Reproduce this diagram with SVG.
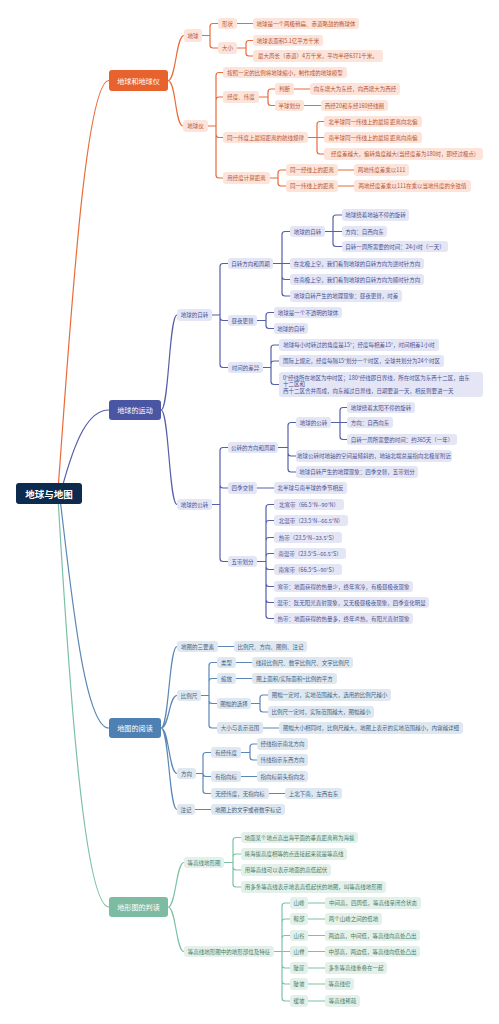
<svg xmlns="http://www.w3.org/2000/svg" width="499" height="1024" viewBox="0 0 499 1024">
<style>
text{font-family:"Noto Sans CJK SC","Noto Sans",sans-serif;text-anchor:middle;dominant-baseline:central;font-size:5.5px}
.lo{fill:none;stroke:#EA6B3A;stroke-width:1.2}
.lb{fill:none;stroke:#5560A8;stroke-width:1.2}
.lm{fill:none;stroke:#5A87B5;stroke-width:1.2}
.lg{fill:none;stroke:#7CC1A5;stroke-width:1.2}
.no rect{fill:#FCE4DB}.no text{fill:#B8532F}
.nb rect{fill:#E4E6F5}.nb text{fill:#4B5190}
.nm rect{fill:#DFE8F0}.nm text{fill:#3F5F80}
.ng rect{fill:#E3F1EA}.ng text{fill:#4C7A66}
.main text{fill:#fff;font-size:7.1px}
#root text{fill:#fff;font-size:9.5px;font-weight:bold}
</style>
<g id="connectors">
<path class="lo" d="M58,490 C70,330 85,80.5 109,80.5"/>
<path class="lb" d="M62,488 C75,440 88,410 109,410"/>
<path class="lm" d="M60,498 C72,600 85,728 109,728"/>
<path class="lg" d="M58,498 C70,700 85,907 109,907"/>
<path class="lo" d="M168,80.5 C176,80.5 176,35.5 184,35.5 M168,80.5 C176,80.5 175,126 183,126
M202,35.5 H210 V26.5 Q210,23.5 213,23.5 H218 M202,35.5 H210 V45 Q210,48 213,48 H218
M237,23.5 H253
M237,48 H246 V43.5 Q246,40.5 249,40.5 H253 M237,48 H246 V53 Q246,56 249,56 H253
M208,126 H216 V75.5 Q216,72.5 219,72.5 H223 M208,126 H216 V100 Q216,97 219,97 H223 M208,126 H216 V134.5 Q216,137.5 219,137.5 H223 M208,126 H216 V175 Q216,178 219,178 H223
M259,97 H268 V92 Q268,89 271,89 H275 M259,97 H268 V102.5 Q268,105.5 271,105.5 H275
M294,89 H310 M304,105.5 H321
M308,137.5 H317 V124.5 Q317,121.5 320,121.5 H324 M308,137.5 H324 M308,137.5 H317 V151 Q317,154 320,154 H324
M270,178 H278 V173 Q278,170 281,170 H286 M270,178 H278 V183 Q278,186 281,186 H286
M338,170 H354 M338,186 H354"/>
<path class="lb" d="M161,410 C169,410 169,315 177,315 M161,410 C169,410 169,504.5 177,504.5
M212,315 H220 V266.5 Q220,263.5 223,263.5 H228 M212,315 H220 V317.5 Q220,320.5 223,320.5 H228 M212,315 H220 V364.5 Q220,367.5 223,367.5 H228
M273,263.5 H282 V234.5 Q282,231.5 285,231.5 H290 M273,263.5 H290 M273,263.5 H282 V276.5 Q282,279.5 285,279.5 H290 M273,263.5 H282 V293 Q282,296 285,296 H290
M325,231.5 H333 V218 Q333,215 336,215 H342 M325,231.5 H342 M325,231.5 H333 V243.5 Q333,246.5 336,246.5 H342
M257,320.5 H266 V315.5 Q266,312.5 269,312.5 H274 M257,320.5 H266 V325.5 Q266,328.5 269,328.5 H274
M263,367.5 H271 V348 Q271,345 274,345 H279 M263,367.5 H271 V364 Q271,361 274,361 H279 M263,367.5 H271 V381.5 Q271,384.5 274,384.5 H279
M212,504.5 H220 V450.5 Q220,447.5 223,447.5 H228 M212,504.5 H220 V485 Q220,488 223,488 H228 M212,504.5 H220 V558.5 Q220,561.5 223,561.5 H228
M278,447.5 H288 V425.5 Q288,422.5 291,422.5 H296 M278,447.5 H288 V453 Q288,456 291,456 H296 M278,447.5 H288 V469 Q288,472 291,472 H296
M331,422.5 H340 V410.5 Q340,407.5 343,407.5 H347 M331,422.5 H347 M331,422.5 H340 V436.5 Q340,439.5 343,439.5 H347
M257,488 H274
M257,561.5 H266 V507.5 Q266,504.5 269,504.5 H274 M257,561.5 H266 V523.5 Q266,520.5 269,520.5 H274 M257,561.5 H266 V540.5 Q266,537.5 269,537.5 H274 M257,561.5 H266 V556.5 Q266,553.5 269,553.5 H274
M257,561.5 H266 V566.5 Q266,569.5 269,569.5 H274 M257,561.5 H266 V583.5 Q266,586.5 269,586.5 H274 M257,561.5 H266 V599.5 Q266,602.5 269,602.5 H274 M257,561.5 H266 V615.5 Q266,618.5 269,618.5 H274"/>
<path class="lm" d="M161,728 C169,728 169,646.5 177,646.5 M161,728 C169,728 169,695.5 177,695.5 M161,728 C169,728 169,773.5 177,773.5 M161,728 C169,728 169,809.5 177,809.5
M218,646.5 H234
M201,695.5 H209 V665.5 Q209,662.5 212,662.5 H217 M201,695.5 H209 V681.5 Q209,678.5 212,678.5 H217 M201,695.5 H209 V700.5 Q209,703.5 212,703.5 H217 M201,695.5 H209 V725 Q209,728 212,728 H217
M236,662.5 H252 M236,678.5 H252
M251,703.5 H260 V698 Q260,695 263,695 H268 M251,703.5 H260 V709 Q260,712 263,712 H268
M263,728 H279
M196,773.5 H203 V755.5 Q203,752.5 206,752.5 H211 M196,773.5 H203 Q203,776.5 206,776.5 H211 M196,773.5 H203 V790.5 Q203,793.5 206,793.5 H211
M241,752.5 H250 V747 Q250,744 253,744 H257 M241,752.5 H250 V757 Q250,760 253,760 H257
M241,776.5 H257 M269,793.5 H285 M195,809.5 H211"/>
<path class="lg" d="M168,907 C176,907 176,862.5 184,862.5 M168,907 C176,907 176,951.5 184,951.5
M224,862.5 H233 V840.5 Q233,837.5 236,837.5 H241 M224,862.5 H233 V857 Q233,854 236,854 H241 M224,862.5 H233 V867 Q233,870 236,870 H241 M224,862.5 H233 V884 Q233,887 236,887 H241
M274,951.5 H282 V906 Q282,903 285,903 H290 M274,951.5 H282 V922 Q282,919 285,919 H290 M274,951.5 H282 V938.5 Q282,935.5 285,935.5 H290 M274,951.5 H290
M274,951.5 H282 V965 Q282,968 285,968 H290 M274,951.5 H282 V981 Q282,984 285,984 H290 M274,951.5 H282 V998 Q282,1001 285,1001 H290
M308,903 H325 M308,919 H325 M308,935.5 H325 M308,951.5 H325 M308,968 H325 M308,984 H325 M308,1001 H325"/>
</g>
<g id="root"><rect x="16" y="483" width="66" height="21" rx="3" fill="#0D2B4E"/><text x="49" y="493.5">地球与地图</text></g>

<g id="o0" class="main"><rect x="109" y="70" width="59" height="21" rx="3" fill="#E8622E"/><text x="138.5" y="80.5">地球和地球仪</text></g>
<g id="o1" class="no"><rect x="184" y="29" width="18" height="13" rx="3"/><text x="193" y="35.5">地球</text></g>
<g id="o2" class="no"><rect x="218" y="18" width="19" height="11" rx="3"/><text x="227.5" y="23.5">形状</text></g>
<g id="o3" class="no"><rect x="253" y="18" width="106" height="11" rx="3"/><text x="306" y="23.5">地球是一个两极稍扁、赤道略鼓的椭球体</text></g>
<g id="o4" class="no"><rect x="218" y="42" width="19" height="12" rx="3"/><text x="227.5" y="48">大小</text></g>
<g id="o5" class="no"><rect x="253" y="35" width="70" height="11" rx="3"/><text x="288" y="40.5">地球表面积5.1亿平方千米</text></g>
<g id="o6" class="no"><rect x="253" y="50" width="130" height="12" rx="3"/><text x="318" y="56">最大周长（赤道）4万千米，平均半径6371千米。</text></g>
<g id="o7" class="no"><rect x="183" y="120" width="25" height="12" rx="3"/><text x="195.5" y="126">地球仪</text></g>
<g id="o8" class="no"><rect x="223" y="67" width="124" height="11" rx="3"/><text x="285" y="72.5">按照一定的比例将地球缩小，制作成的地球模型</text></g>
<g id="o9" class="no"><rect x="223" y="91" width="36" height="12" rx="3"/><text x="241" y="97">经度、纬度</text></g>
<g id="o10" class="no"><rect x="275" y="83" width="19" height="12" rx="3"/><text x="284.5" y="89">判断</text></g>
<g id="o11" class="no"><rect x="310" y="83" width="90" height="12" rx="3"/><text x="355" y="89">向东增大为东经，向西增大为西经</text></g>
<g id="o12" class="no"><rect x="275" y="100" width="29" height="11" rx="3"/><text x="289.5" y="105.5">半球划分</text></g>
<g id="o13" class="no"><rect x="321" y="100" width="67" height="11" rx="3"/><text x="354.5" y="105.5">西经20和东经160经线圈</text></g>
<g id="o14" class="no"><rect x="223" y="132" width="85" height="11" rx="3"/><text x="265.5" y="137.5">同一纬度上最短距离的航线规律</text></g>
<g id="o15" class="no"><rect x="324" y="116" width="98" height="11" rx="3"/><text x="373" y="121.5">北半球同一纬线上的最短 距离向北偏</text></g>
<g id="o16" class="no"><rect x="324" y="132" width="98" height="11" rx="3"/><text x="373" y="137.5">南半球同一纬线上的最短 距离向南偏</text></g>
<g id="o17" class="no"><rect x="324" y="148" width="159" height="12" rx="3"/><text x="403.5" y="154">经度差越大，偏转角度越大(当经度差为180时，即经过极点)</text></g>
<g id="o18" class="no"><rect x="223" y="172" width="47" height="12" rx="3"/><text x="246.5" y="178">用经度计算距离</text></g>
<g id="o19" class="no"><rect x="286" y="164" width="52" height="12" rx="3"/><text x="312" y="170">同一经线上的距离</text></g>
<g id="o20" class="no"><rect x="354" y="164" width="55" height="12" rx="3"/><text x="381.5" y="170">两地纬度差乘以111</text></g>
<g id="o21" class="no"><rect x="286" y="180" width="52" height="12" rx="3"/><text x="312" y="186">同一纬线上的距离</text></g>
<g id="o22" class="no"><rect x="354" y="180" width="117" height="12" rx="3"/><text x="412.5" y="186">两地经度差乘以111在乘以当地纬度的余弦值</text></g>

<g id="b0" class="main"><rect x="109" y="400" width="52" height="20" rx="3" fill="#4A55A3"/><text x="135" y="410">地球的运动</text></g>
<g id="b1" class="nb"><rect x="177" y="309" width="35" height="12" rx="3"/><text x="194.5" y="315">地球的自转</text></g>
<g id="b2" class="nb"><rect x="228" y="258" width="45" height="11" rx="3"/><text x="250.5" y="263.5">自转方向和周期</text></g>
<g id="b3" class="nb"><rect x="290" y="226" width="35" height="11" rx="3"/><text x="307.5" y="231.5">地球的自转</text></g>
<g id="b4" class="nb"><rect x="342" y="209" width="67" height="12" rx="3"/><text x="375.5" y="215">地球绕着地轴不停的旋转</text></g>
<g id="b5" class="nb"><rect x="342" y="226" width="45" height="11" rx="3"/><text x="364.5" y="231.5">方向：自西向东</text></g>
<g id="b6" class="nb"><rect x="342" y="241" width="106" height="11" rx="3"/><text x="395" y="246.5">自转一周所需要的时间：24小时（一天）</text></g>
<g id="b7" class="nb"><rect x="290" y="258" width="134" height="11" rx="3"/><text x="357" y="263.5">在北极上空，我们看到地球的自转方向为逆时针方向</text></g>
<g id="b8" class="nb"><rect x="290" y="274" width="134" height="11" rx="3"/><text x="357" y="279.5">在南极上空，我们看到地球的自转方向为顺时针方向</text></g>
<g id="b9" class="nb"><rect x="290" y="290" width="112" height="12" rx="3"/><text x="346" y="296">地球自转产生的地理现象：昼夜更替，时差</text></g>
<g id="b10" class="nb"><rect x="228" y="315" width="29" height="11" rx="3"/><text x="242.5" y="320.5">昼夜更替</text></g>
<g id="b11" class="nb"><rect x="274" y="307" width="68" height="11" rx="3"/><text x="308" y="312.5">地球是一个不透明的球体</text></g>
<g id="b12" class="nb"><rect x="274" y="323" width="34" height="11" rx="3"/><text x="291" y="328.5">地球的自转</text></g>
<g id="b13" class="nb"><rect x="228" y="362" width="35" height="11" rx="3"/><text x="245.5" y="367.5">时间的差异</text></g>
<g id="b14" class="nb"><rect x="279" y="339" width="160" height="12" rx="3"/><text x="359" y="345">地球每小时转过的角度是15°；经度每相差15°，时间相差1小时</text></g>
<g id="b15" class="nb"><rect x="279" y="355" width="165" height="12" rx="3"/><text x="361.5" y="361">国际上规定，经度每隔15°划分一个时区，全球共划分为24个时区</text></g>
<g id="b16" class="nb"><rect x="279" y="372" width="204" height="25" rx="3"/><text x="283" y="377.5" style="text-anchor:start">0°经线所在地区为中时区；180°经线即日界线，所在时区为东西十二区，由东</text><text x="283" y="384" style="text-anchor:start">十二区和</text><text x="283" y="390.5" style="text-anchor:start">西十二区合并而成，向东越过日界线，日期要退一天，相反则要进一天</text></g>
<g id="b17" class="nb"><rect x="177" y="499" width="35" height="11" rx="3"/><text x="194.5" y="504.5">地球的公转</text></g>
<g id="b18" class="nb"><rect x="228" y="442" width="50" height="11" rx="3"/><text x="253" y="447.5">公转的方向和周期</text></g>
<g id="b19" class="nb"><rect x="296" y="417" width="35" height="11" rx="3"/><text x="313.5" y="422.5">地球的公转</text></g>
<g id="b20" class="nb"><rect x="347" y="402" width="68" height="11" rx="3"/><text x="381" y="407.5">地球绕着太阳不停的旋转</text></g>
<g id="b21" class="nb"><rect x="347" y="417" width="46" height="11" rx="3"/><text x="370" y="422.5">方向：自西向东</text></g>
<g id="b22" class="nb"><rect x="347" y="434" width="110" height="11" rx="3"/><text x="402" y="439.5">自转一周所需要的时间：约365天（一年）</text></g>
<g id="b23" class="nb"><rect x="296" y="450" width="156" height="12" rx="3"/><text x="374" y="456">地球公转时地轴的空间是倾斜的，地轴北端总是指向北极星附近</text></g>
<g id="b24" class="nb"><rect x="296" y="466" width="122" height="12" rx="3"/><text x="357" y="472">地球自转产生的地理现象：四季交替，五带划分</text></g>
<g id="b25" class="nb"><rect x="228" y="482" width="29" height="12" rx="3"/><text x="242.5" y="488">四季交替</text></g>
<g id="b26" class="nb"><rect x="274" y="482" width="73" height="12" rx="3"/><text x="310.5" y="488">北半球与南半球的季节相反</text></g>
<g id="b27" class="nb"><rect x="228" y="556" width="29" height="11" rx="3"/><text x="242.5" y="561.5">五带划分</text></g>
<g id="b28" class="nb"><rect x="274" y="499" width="70" height="11" rx="3"/><text x="309" y="504.5">北寒带（66.5°N--90°N）</text></g>
<g id="b29" class="nb"><rect x="274" y="515" width="74" height="11" rx="3"/><text x="311" y="520.5">北温带（23.5°N--66.5°N）</text></g>
<g id="b30" class="nb"><rect x="274" y="532" width="68" height="11" rx="3"/><text x="308" y="537.5">热带（23.5°N--23.5°S）</text></g>
<g id="b31" class="nb"><rect x="274" y="548" width="72" height="11" rx="3"/><text x="310" y="553.5">南温带（23.5°S--66.5°S）</text></g>
<g id="b32" class="nb"><rect x="274" y="564" width="68" height="11" rx="3"/><text x="308" y="569.5">南寒带（66.5°S--90°S）</text></g>
<g id="b33" class="nb"><rect x="274" y="581" width="139" height="11" rx="3"/><text x="343.5" y="586.5">寒带：地面获得的热量少，终年寒冷，有极昼极夜现象</text></g>
<g id="b34" class="nb"><rect x="274" y="597" width="155" height="11" rx="3"/><text x="351.5" y="602.5">温带：既无阳光直射现象，又无极昼极夜现象，四季变化明显</text></g>
<g id="b35" class="nb"><rect x="274" y="613" width="139" height="11" rx="3"/><text x="343.5" y="618.5">热带：地面获得的热量多，终年炎热，有阳光直射现象</text></g>

<g id="m0" class="main"><rect x="109" y="718" width="52" height="20" rx="3" fill="#4E80B3"/><text x="135" y="728">地图的阅读</text></g>
<g id="m1" class="nm"><rect x="177" y="641" width="41" height="11" rx="3"/><text x="197.5" y="646.5">地图的三要素</text></g>
<g id="m2" class="nm"><rect x="234" y="641" width="73" height="11" rx="3"/><text x="270.5" y="646.5">比例尺、方向、图例、注记</text></g>
<g id="m3" class="nm"><rect x="177" y="690" width="24" height="11" rx="3"/><text x="189" y="695.5">比例尺</text></g>
<g id="m4" class="nm"><rect x="217" y="657" width="19" height="11" rx="3"/><text x="226.5" y="662.5">类型</text></g>
<g id="m5" class="nm"><rect x="252" y="657" width="101" height="11" rx="3"/><text x="302.5" y="662.5">线段比例尺、数字比例尺、文字比例尺</text></g>
<g id="m6" class="nm"><rect x="217" y="673" width="19" height="11" rx="3"/><text x="226.5" y="678.5">缩放</text></g>
<g id="m7" class="nm"><rect x="252" y="673" width="85" height="11" rx="3"/><text x="294.5" y="678.5">图上面积/实际面积=比例的平方</text></g>
<g id="m8" class="nm"><rect x="217" y="698" width="34" height="11" rx="3"/><text x="234" y="703.5">图幅的选择</text></g>
<g id="m9" class="nm"><rect x="268" y="689" width="123" height="12" rx="3"/><text x="329.5" y="695">图幅一定时，实地范围越大，选用的比例尺越小</text></g>
<g id="m10" class="nm"><rect x="268" y="706" width="106" height="12" rx="3"/><text x="321" y="712">比例尺一定时，实际范围越大，图幅越小</text></g>
<g id="m11" class="nm"><rect x="217" y="722" width="46" height="12" rx="3"/><text x="240" y="728">大小与表示范围</text></g>
<g id="m12" class="nm"><rect x="279" y="722" width="184" height="12" rx="3"/><text x="371" y="728">图幅大小相同时，比例尺越大，地图上表示的实地范围越小，内容越详细</text></g>
<g id="m13" class="nm"><rect x="177" y="768" width="19" height="11" rx="3"/><text x="186.5" y="773.5">方向</text></g>
<g id="m14" class="nm"><rect x="211" y="747" width="30" height="11" rx="3"/><text x="226" y="752.5">有经纬度</text></g>
<g id="m15" class="nm"><rect x="257" y="738" width="51" height="12" rx="3"/><text x="282.5" y="744">经线指示南北方向</text></g>
<g id="m16" class="nm"><rect x="257" y="754" width="51" height="12" rx="3"/><text x="282.5" y="760">纬线指示东西方向</text></g>
<g id="m17" class="nm"><rect x="211" y="771" width="30" height="11" rx="3"/><text x="226" y="776.5">有指向标</text></g>
<g id="m18" class="nm"><rect x="257" y="771" width="51" height="11" rx="3"/><text x="282.5" y="776.5">指向标箭头指向北</text></g>
<g id="m19" class="nm"><rect x="211" y="788" width="58" height="11" rx="3"/><text x="240" y="793.5">无经纬度，无指向标</text></g>
<g id="m20" class="nm"><rect x="285" y="788" width="57" height="11" rx="3"/><text x="313.5" y="793.5">上北下南，左西右东</text></g>
<g id="m21" class="nm"><rect x="177" y="804" width="18" height="11" rx="3"/><text x="186" y="809.5">注记</text></g>
<g id="m22" class="nm"><rect x="211" y="804" width="74" height="11" rx="3"/><text x="248" y="809.5">地图上的文字或者数字标记</text></g>

<g id="g0" class="main"><rect x="109" y="897" width="59" height="20" rx="3" fill="#7DBBA2"/><text x="138.5" y="907">地形图的判读</text></g>
<g id="g1" class="ng"><rect x="184" y="857" width="40" height="11" rx="3"/><text x="204" y="862.5">等高线地形图</text></g>
<g id="g2" class="ng"><rect x="241" y="832" width="117" height="11" rx="3"/><text x="299.5" y="837.5">地面某个地点高出海平面的垂直距离称为海拔</text></g>
<g id="g3" class="ng"><rect x="241" y="848" width="106" height="12" rx="3"/><text x="294" y="854">将海拔高度相等的点连接起来就是等高线</text></g>
<g id="g4" class="ng"><rect x="241" y="864" width="90" height="12" rx="3"/><text x="286" y="870">用等高线可以表示地面的高低起伏</text></g>
<g id="g5" class="ng"><rect x="241" y="881" width="145" height="12" rx="3"/><text x="313.5" y="887">用多条等高线表示地表高低起伏的地图，叫等高线地形图</text></g>
<g id="g6" class="ng"><rect x="184" y="946" width="90" height="11" rx="3"/><text x="229" y="951.5">等高线地形图中的地形部位及特征</text></g>
<g id="g7" class="ng"><rect x="290" y="897" width="18" height="12" rx="3"/><text x="299" y="903">山峰</text></g>
<g id="g8" class="ng"><rect x="325" y="897" width="96" height="12" rx="3"/><text x="373" y="903">中间高，四周低，等高线呈闭合状态</text></g>
<g id="g9" class="ng"><rect x="290" y="913" width="18" height="12" rx="3"/><text x="299" y="919">鞍部</text></g>
<g id="g10" class="ng"><rect x="325" y="913" width="57" height="12" rx="3"/><text x="353.5" y="919">两个山峰之间的低地</text></g>
<g id="g11" class="ng"><rect x="290" y="930" width="18" height="11" rx="3"/><text x="299" y="935.5">山谷</text></g>
<g id="g12" class="ng"><rect x="325" y="930" width="95" height="11" rx="3"/><text x="372.5" y="935.5">两边高，中间低，等高线向高处凸出</text></g>
<g id="g13" class="ng"><rect x="290" y="946" width="18" height="11" rx="3"/><text x="299" y="951.5">山脊</text></g>
<g id="g14" class="ng"><rect x="325" y="946" width="95" height="11" rx="3"/><text x="372.5" y="951.5">中部高，两边低，等高线向低处凸出</text></g>
<g id="g15" class="ng"><rect x="290" y="962" width="18" height="12" rx="3"/><text x="299" y="968">陡崖</text></g>
<g id="g16" class="ng"><rect x="325" y="962" width="62" height="12" rx="3"/><text x="356" y="968">多条等高线重叠在一起</text></g>
<g id="g17" class="ng"><rect x="290" y="978" width="18" height="12" rx="3"/><text x="299" y="984">陡坡</text></g>
<g id="g18" class="ng"><rect x="325" y="978" width="29" height="12" rx="3"/><text x="339.5" y="984">等高线密</text></g>
<g id="g19" class="ng"><rect x="290" y="995" width="18" height="12" rx="3"/><text x="299" y="1001">缓坡</text></g>
<g id="g20" class="ng"><rect x="325" y="995" width="35" height="12" rx="3"/><text x="342.5" y="1001">等高线稀疏</text></g>
</svg>
